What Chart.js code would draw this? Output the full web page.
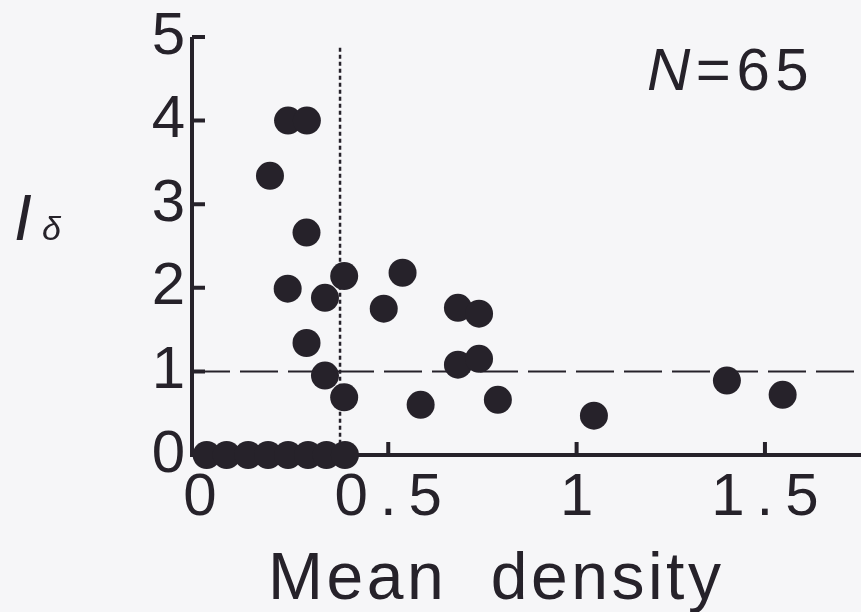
<!DOCTYPE html>
<html lang="en">

<head>
    <meta charset="UTF-8">
    <title>Mean density vs I delta</title>
    <script src="https://cdn.jsdelivr.net/npm/chart.js"></script>
    <style>
        body {
            margin: 0;
            background: #f6f6f8;
            font-family: "Liberation Sans", Arial, sans-serif;
            color: #26222a;
        }

        .caixa {
            position: relative;
            width: 861px;
            height: 612px;
        }

        .rotulo {
            position: absolute;
            white-space: pre;
            line-height: 1;
        }
    </style>
</head>

<body>
    <div class="caixa">
        <canvas id="grafico" width="861" height="612"></canvas>

        <div class="rotulo" style="left:14px; top:186px; font-size:64px;"><i>I</i></div>
        <div class="rotulo" style="left:42px; top:211px; font-size:34px;"><i>δ</i></div>
        <div class="rotulo" style="left:647px; top:40px; font-size:60px; letter-spacing:5.5px;"><i>N</i>=65</div>
        <div class="rotulo" style="left:268px; top:543px; font-size:66px; letter-spacing:3.5px;">Mean  density</div>
    </div>

    <script>
        // valores
        const densidade = [0.234, 0.284, 0.186, 0.283, 0.233, 0.332, 0.383, 0.538, 0.488, 0.283,
            0.332, 0.383, 0.586, 0.685, 0.741, 0.685, 0.741, 0.791, 1.046, 1.399, 1.547,
            0.018, 0.071, 0.128, 0.181, 0.234, 0.287, 0.336, 0.385];
        const indice = [4.0, 4.0, 3.34, 2.66, 1.99, 1.88, 2.14, 2.18, 1.75, 1.34,
            0.95, 0.69, 0.60, 1.76, 1.69, 1.08, 1.15, 0.66, 0.47, 0.89, 0.72,
            0, 0, 0, 0, 0, 0, 0, 0];

        const ticksX = [0, 0.5, 1, 1.5];
        const ticksY = [0, 1, 2, 3, 4, 5];

        const limiteY = 1;        // linha tracejada
        const limiteX = 0.372;    // linha pontilhada
        const topoPontilhado = 4.87;

        const corTinta = '#26222a';
        const espacoLetras = 12;

        const pontos = densidade.map(function (d, i) {
            return { x: d, y: indice[i] };
        });

        const eixosPlugin = {
            id: 'eixos',
            beforeDraw(chart) {
                // espaçamento largo dos números dos eixos
                chart.ctx.letterSpacing = espacoLetras + 'px';
            },
            beforeDatasetsDraw(chart) {
                const ctx = chart.ctx;
                const x = chart.scales.x;
                const y = chart.scales.y;
                const area = chart.chartArea;

                ctx.save();
                ctx.strokeStyle = corTinta;

                // linha tracejada em y = 1
                ctx.lineWidth = 2;
                ctx.setLineDash([38, 10]);
                ctx.beginPath();
                ctx.moveTo(area.left, y.getPixelForValue(limiteY));
                ctx.lineTo(area.right, y.getPixelForValue(limiteY));
                ctx.stroke();

                // linha pontilhada vertical
                ctx.lineWidth = 2.5;
                ctx.setLineDash([4, 3]);
                ctx.beginPath();
                ctx.moveTo(x.getPixelForValue(limiteX), y.getPixelForValue(topoPontilhado));
                ctx.lineTo(x.getPixelForValue(limiteX), y.getPixelForValue(0));
                ctx.stroke();

                // eixos
                ctx.setLineDash([]);
                ctx.lineWidth = 4;
                ctx.beginPath();
                ctx.moveTo(area.left, y.getPixelForValue(5));
                ctx.lineTo(area.left, y.getPixelForValue(0));
                ctx.lineTo(area.right, y.getPixelForValue(0));
                ctx.stroke();

                // marcas para dentro
                ctx.beginPath();
                ticksY.slice(1).forEach(function (v) {
                    const py = y.getPixelForValue(v);
                    ctx.moveTo(area.left, py);
                    ctx.lineTo(area.left + 13, py);
                });
                ticksX.slice(1).forEach(function (v) {
                    const px = x.getPixelForValue(v);
                    ctx.moveTo(px, y.getPixelForValue(0));
                    ctx.lineTo(px, y.getPixelForValue(0) - 13);
                });
                ctx.stroke();
                ctx.restore();
            }
        };

        const ctxGrafico = document.getElementById('grafico');

        new Chart(ctxGrafico, {
            type: 'scatter',
            data: {
                datasets: [{
                    data: pontos,
                    backgroundColor: corTinta,
                    borderWidth: 0,
                    pointRadius: 14,
                    pointHoverRadius: 14,
                    clip: false
                }]
            },
            options: {
                responsive: false,
                animation: false,
                events: [],
                layout: {
                    autoPadding: false,
                    padding: { top: 37, right: 0, left: 0, bottom: 0 }
                },
                plugins: {
                    legend: { display: false },
                    tooltip: { enabled: false }
                },
                scales: {
                    x: {
                        type: 'linear',
                        min: -0.021,
                        max: 1.755,
                        grid: { display: false, drawTicks: false },
                        border: { display: false },
                        afterBuildTicks: function (scale) {
                            scale.ticks = ticksX.map(v => ({ value: v }));
                        },
                        afterFit: function (scale) {
                            scale.height = 157;
                            scale.paddingLeft = 0;
                            scale.paddingRight = 0;
                        },
                        ticks: {
                            autoSkip: false,
                            maxRotation: 0,
                            padding: 7,
                            labelOffset: espacoLetras / 2,
                            color: corTinta,
                            callback: v => String(v),
                            font: { family: '"Liberation Sans", Arial, sans-serif', size: 60 }
                        }
                    },
                    y: {
                        min: 0,
                        max: 5,
                        grid: { display: false, drawTicks: false },
                        border: { display: false },
                        afterBuildTicks: function (scale) {
                            scale.ticks = ticksY.map(v => ({ value: v }));
                        },
                        afterFit: function (scale) {
                            scale.width = 192;
                            scale.paddingTop = 0;
                            scale.paddingBottom = 0;
                        },
                        ticks: {
                            padding: 7 - espacoLetras,
                            color: corTinta,
                            font: { family: '"Liberation Sans", Arial, sans-serif', size: 60 }
                        }
                    }
                }
            },
            plugins: [eixosPlugin]
        });
    </script>
</body>

</html>
